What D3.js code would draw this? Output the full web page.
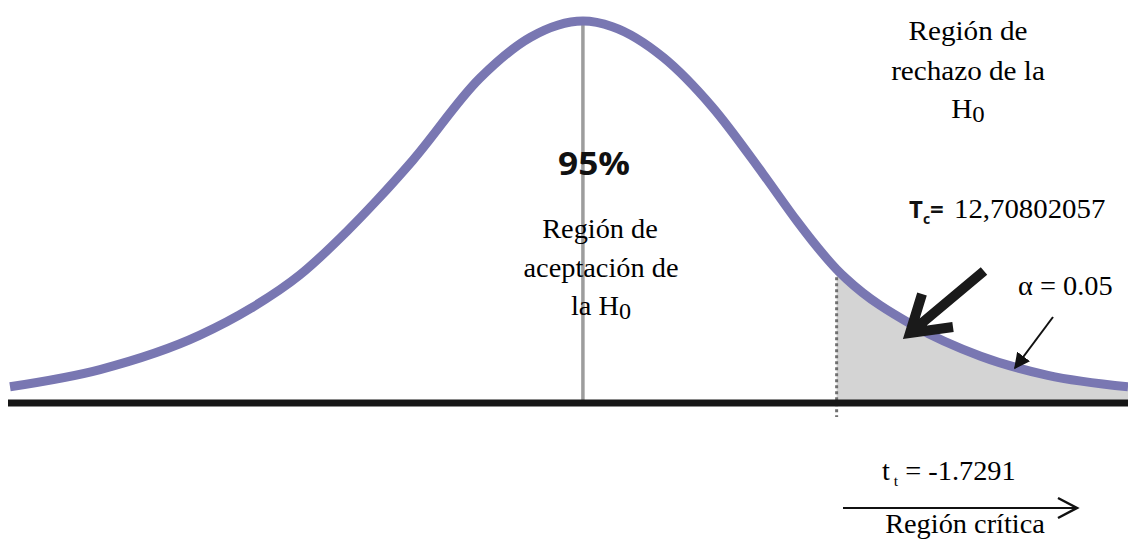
<!DOCTYPE html>
<html>
<head>
<meta charset="utf-8">
<script src="https://cdn.jsdelivr.net/npm/d3@7"></script>
<style>
    html, body { margin: 0; padding: 0; background: #fff; }
    svg { display: block; }
</style>
</head>
<body>
<div id="chart"></div>
<script>
// t values read along the curve, and the density drawn at each of them
var tValues  = [-3.50, -2.95, -2.34, -2.03, -1.73, -1.44, -1.26, -1.04, -0.63, -0.32, 0.00,
                 0.18,  0.49,  0.79,  1.10,  1.31,  1.40,  1.55,  1.61,  2.02,  2.43,  2.84, 3.33];
var density  = [0.017, 0.035, 0.071, 0.099, 0.134, 0.180, 0.212, 0.254, 0.340, 0.383, 0.400,
                0.394, 0.362, 0.310, 0.240, 0.190, 0.170, 0.140, 0.130, 0.081, 0.049, 0.029, 0.017];
var tCritico = 1.55;
var labelRechazo    = ['Región de', 'rechazo de la'];
var labelAceptacion = ['Región de', 'aceptación de'];

var width = 1128, height = 541;
var svg = d3.select('#chart')
    .append('svg')
    .attr('width', width)
    .attr('height', height);

var x = d3.scaleLinear().domain([-3.5, 3.33]).range([10, 1128]);
var y = d3.scaleLinear().domain([0, 0.4]).range([403, 21]);

var pts = tValues.map(function (t, i) { return [t, density[i]]; });

// shaded tail (alpha region), clipped to the right of the critical value
svg.append('clipPath')
    .attr('id', 'tail')
    .append('rect')
    .attr('x', x(tCritico)).attr('y', 0)
    .attr('width', width - x(tCritico)).attr('height', y(0));

var area = d3.area()
    .x(function (d) { return x(d[0]); })
    .y0(y(0))
    .y1(function (d) { return y(d[1]); })
    .curve(d3.curveMonotoneX);

svg.append('path')
    .datum(pts)
    .attr('d', area)
    .attr('clip-path', 'url(#tail)')
    .attr('fill', '#d4d4d4');

// vertical line at the mean
svg.append('line')
    .attr('x1', x(0)).attr('x2', x(0))
    .attr('y1', y(0.4)).attr('y2', y(0))
    .attr('stroke', '#9d9d9d')
    .attr('stroke-width', 3.5);

// dotted line at the critical value
svg.append('line')
    .attr('x1', x(tCritico)).attr('x2', x(tCritico))
    .attr('y1', y(0.138)).attr('y2', y(0) + 14)
    .attr('stroke', '#707070')
    .attr('stroke-width', 3)
    .attr('stroke-dasharray', '3,3');

// the density curve
var line = d3.line()
    .x(function (d) { return x(d[0]); })
    .y(function (d) { return y(d[1]); })
    .curve(d3.curveMonotoneX);

svg.append('path')
    .datum(pts)
    .attr('d', line)
    .attr('fill', 'none')
    .attr('stroke', '#7977b2')
    .attr('stroke-width', 9);

// base line
svg.append('line')
    .attr('x1', 8).attr('x2', width)
    .attr('y1', y(0)).attr('y2', y(0))
    .attr('stroke', '#161616')
    .attr('stroke-width', 7);

// text helper: serif text, stretched a bit horizontally like the original
function addText(cx, cy, anchor, size, sx) {
    var g = svg.append('g')
        .attr('transform', 'translate(' + cx + ',' + cy + ') scale(' + sx + ',1)');
    return g.append('text')
        .attr('text-anchor', anchor)
        .style('font-family', '"Liberation Serif", "Times New Roman", serif')
        .attr('font-size', size)
        .attr('fill', '#000');
}

function addH0(t) {
    t.append('tspan').text('H');
    t.append('tspan').attr('font-size', 23).attr('dy', 4).text('0');
}

// rejection region label
addText(968, 40, 'middle', 27, 1.08).text(labelRechazo[0]);
addText(968, 80, 'middle', 27, 1.08).text(labelRechazo[1]);
addH0(addText(968, 118, 'middle', 27, 1.08));

// acceptance region
svg.append('text')
    .attr('x', 594).attr('y', 175)
    .attr('text-anchor', 'middle')
    .style('font-family', '"Open Sans", sans-serif')
    .attr('font-weight', 'bold')
    .attr('font-size', 33)
    .attr('textLength', 72)
    .attr('lengthAdjust', 'spacingAndGlyphs')
    .attr('fill', '#111')
    .text('95%');
addText(600, 238, 'middle', 27, 1.05).text(labelAceptacion[0]);
addText(601, 277, 'middle', 27, 1.05).text(labelAceptacion[1]);
var la = addText(601, 315, 'middle', 27, 1.05);
la.append('tspan').text('la ');
addH0(la);

// T calculated
var tc = svg.append('text')
    .attr('x', 909).attr('y', 218)
    .style('font-family', '"Open Sans", sans-serif')
    .attr('font-weight', 'bold')
    .attr('fill', '#111');
tc.append('tspan').attr('font-size', 24).text('T');
tc.append('tspan').attr('font-size', 14).attr('dy', 6).text('c');
tc.append('tspan').attr('font-size', 24).attr('dy', -6).text('=');
addText(954, 218, 'start', 28, 1.03).text('12,70802057');

// alpha
addText(1018, 295, 'start', 27, 1.05).text('α = 0.05');

// t table
var tt = addText(882, 480, 'start', 27, 1.05);
tt.append('tspan').text('t');
tt.append('tspan').attr('font-size', 15).attr('dy', 6).text(' t');
tt.append('tspan').attr('dy', -6).text(' = -1.7291');

// critical region arrow
svg.append('line')
    .attr('x1', 843).attr('x2', 1076)
    .attr('y1', 508).attr('y2', 508)
    .attr('stroke', '#111').attr('stroke-width', 2);
svg.append('path')
    .attr('d', 'M1058,498 L1077,508 L1058,518')
    .attr('fill', 'none')
    .attr('stroke', '#111').attr('stroke-width', 2.5);
addText(965, 533, 'middle', 27, 1.05).text('Región crítica');

// thick arrow pointing at the tail
svg.append('path')
    .attr('d', 'M984,271 L910,333 M922,294 L910,333 L953,327')
    .attr('fill', 'none')
    .attr('stroke', '#1a1a1a')
    .attr('stroke-width', 10)
    .attr('stroke-linejoin', 'miter');

// thin arrow to alpha area
svg.append('defs').append('marker')
    .attr('id', 'tip')
    .attr('viewBox', '0 0 10 10')
    .attr('refX', 9).attr('refY', 5)
    .attr('markerWidth', 8).attr('markerHeight', 8)
    .attr('orient', 'auto')
    .append('path')
    .attr('d', 'M0,0 L10,5 L0,10 z')
    .attr('fill', '#111');
svg.append('line')
    .attr('x1', 1053).attr('y1', 317)
    .attr('x2', 1015).attr('y2', 368)
    .attr('stroke', '#111').attr('stroke-width', 2)
    .attr('marker-end', 'url(#tip)');
</script>
</body>
</html>
